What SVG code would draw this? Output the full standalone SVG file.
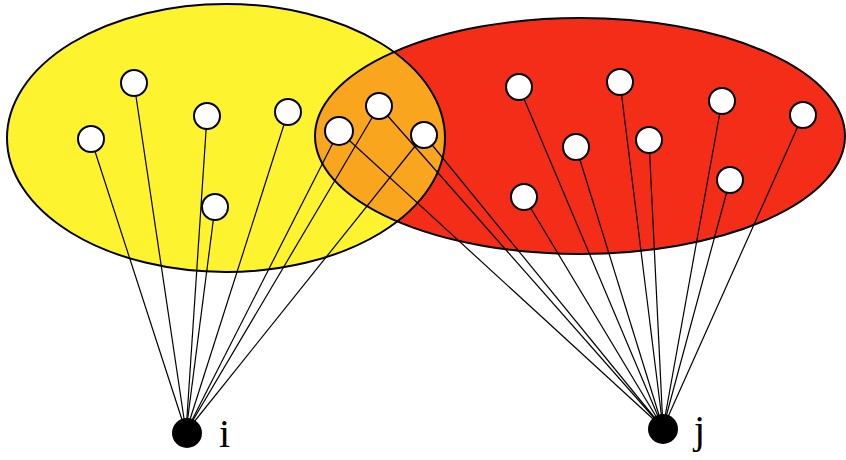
<svg xmlns="http://www.w3.org/2000/svg" width="846" height="460" viewBox="0 0 846 460">
<style>
.ell{stroke:#000;stroke-width:2;fill:none}
.e{stroke:#000;stroke-width:1.2}
.n{fill:#fff;stroke:#000;stroke-width:2}
.hub{fill:#000}
.lbl{font-family:"Liberation Serif",serif;font-size:40px;fill:#000}
</style>
<defs>
<clipPath id="cy"><ellipse cx="226" cy="138" rx="219" ry="134"/></clipPath>
</defs>
<g id="sets">
<ellipse cx="226" cy="138" rx="219" ry="134" fill="#FDF32F"/>
<ellipse cx="580" cy="136" rx="265" ry="118" fill="#F42D18"/>
<ellipse cx="580" cy="136" rx="265" ry="118" fill="#F9A61E" clip-path="url(#cy)"/>
<ellipse class="ell" cx="226" cy="138" rx="219" ry="134"/>
<ellipse class="ell" cx="580" cy="136" rx="265" ry="118"/>
</g>
<g id="connectors">
<line class="e" x1="91" y1="139" x2="186" y2="432"/>
<line class="e" x1="134" y1="83" x2="186" y2="432"/>
<line class="e" x1="207" y1="116" x2="186" y2="432"/>
<line class="e" x1="288" y1="112" x2="186" y2="432"/>
<line class="e" x1="215" y1="207" x2="186" y2="432"/>
<line class="e" x1="339" y1="131" x2="186" y2="432"/>
<line class="e" x1="379" y1="106" x2="186" y2="432"/>
<line class="e" x1="424" y1="135" x2="186" y2="432"/>
<line class="e" x1="339" y1="131" x2="663" y2="428"/>
<line class="e" x1="379" y1="106" x2="663" y2="428"/>
<line class="e" x1="424" y1="135" x2="663" y2="428"/>
<line class="e" x1="519" y1="87" x2="663" y2="428"/>
<line class="e" x1="620" y1="82" x2="663" y2="428"/>
<line class="e" x1="722" y1="101" x2="663" y2="428"/>
<line class="e" x1="803" y1="115" x2="663" y2="428"/>
<line class="e" x1="576" y1="147" x2="663" y2="428"/>
<line class="e" x1="649" y1="140" x2="663" y2="428"/>
<line class="e" x1="730" y1="180" x2="663" y2="428"/>
<line class="e" x1="524" y1="197" x2="663" y2="428"/>
</g>
<g id="y1"><circle class="n" cx="91" cy="139" r="13"/></g>
<g id="y2"><circle class="n" cx="134" cy="83" r="13"/></g>
<g id="y3"><circle class="n" cx="207" cy="116" r="13"/></g>
<g id="y4"><circle class="n" cx="288" cy="112" r="13"/></g>
<g id="y5"><circle class="n" cx="215" cy="207" r="13"/></g>
<g id="o1"><circle class="n" cx="339" cy="131" r="14"/></g>
<g id="o2"><circle class="n" cx="379" cy="106" r="13"/></g>
<g id="o3"><circle class="n" cx="424" cy="135" r="13"/></g>
<g id="r1"><circle class="n" cx="519" cy="87" r="13"/></g>
<g id="r2"><circle class="n" cx="620" cy="82" r="13"/></g>
<g id="r3"><circle class="n" cx="722" cy="101" r="13"/></g>
<g id="r4"><circle class="n" cx="803" cy="115" r="13"/></g>
<g id="r5"><circle class="n" cx="576" cy="147" r="13"/></g>
<g id="r6"><circle class="n" cx="649" cy="140" r="13"/></g>
<g id="r7"><circle class="n" cx="730" cy="180" r="13"/></g>
<g id="r8"><circle class="n" cx="524" cy="197" r="13"/></g>
<g id="i"><circle class="hub" cx="187" cy="433" r="15"/><text class="lbl" x="219" y="447">i</text></g>
<g id="j"><circle class="hub" cx="663" cy="429" r="15"/><text class="lbl" x="694" y="443">j</text></g>
</svg>
